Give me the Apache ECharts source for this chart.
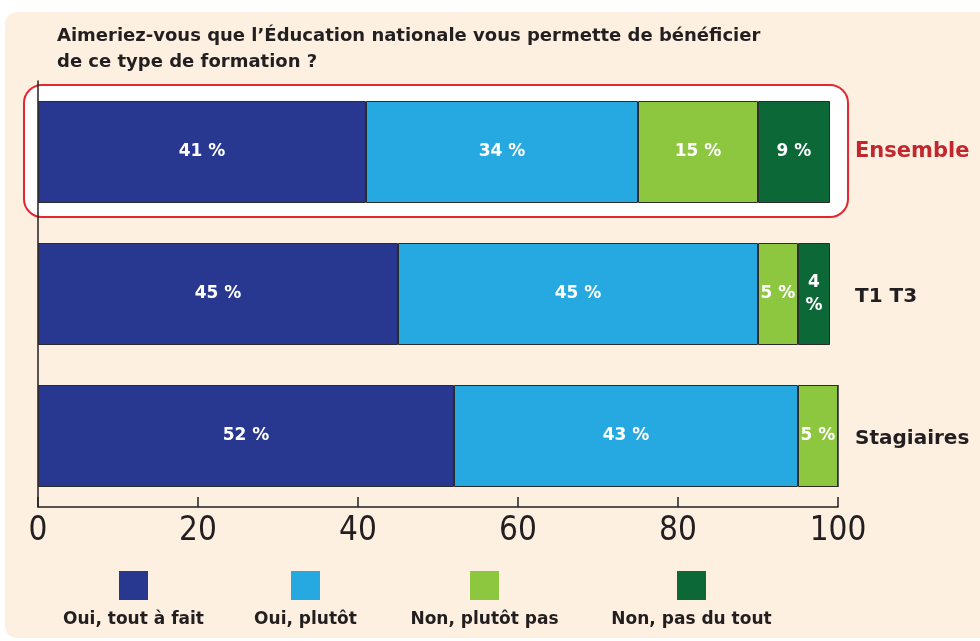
<!DOCTYPE html>
<html>
<head>
<meta charset="utf-8">
<script src="https://cdn.jsdelivr.net/npm/echarts@6/dist/echarts.min.js"></script>
<style>
  html, body { margin: 0; padding: 0; background: #fff; }
  #chart { width: 980px; height: 641px; }
</style>
</head>
<body>
<div id="chart"></div>
<script>
// data
const groups = ['Ensemble', 'T1 T3', 'Stagiaires'];
const answers = ['Oui, tout à fait', 'Oui, plutôt', 'Non, plutôt pas', 'Non, pas du tout'];
const ouiTout = [41, 45, 52];
const ouiPlutot = [34, 45, 43];
const nonPlutot = [15, 5, 5];
const nonPasDuTout = [9, 4, 0];
const xTicks = [0, 20, 40, 60, 80, 100];

const colors = ['#283891', '#25a9e0', '#8dc63f', '#0d6838'];
const values = [ouiTout, ouiPlutot, nonPlutot, nonPasDuTout];
const FONT = 'DejaVu Sans';

let chart = echarts.init(document.getElementById('chart'));

let labelFormatter = function (p) {
    if (!p.value) return '';
    return p.value < 5 ? p.value + '\n%' : p.value + ' %';
};

let series = answers.map((name, i) => ({
    name: name,
    type: 'bar',
    stack: 'total',
    barWidth: 102,
    data: values[i],
    itemStyle: {
        color: colors[i],
        borderColor: '#2b2b2b',
        borderWidth: 1
    },
    label: {
        show: true,
        position: 'inside',
        color: '#fff',
        fontFamily: FONT,
        fontWeight: 'bold',
        fontSize: 17,
        lineHeight: 23,
        formatter: labelFormatter
    }
}));

let legendLeft = [119, 291, 470, 677];
let legends = answers.map((name, i) => ({
    data: [name],
    left: legendLeft[i],
    top: 571,
    padding: 0,
    icon: 'rect',
    itemWidth: 29,
    itemHeight: 29,
    itemStyle: { borderWidth: 0 },
    selectedMode: false,
    formatter: () => ''
}));

let legendText = answers.map((name, i) => ({
    type: 'text',
    x: legendLeft[i] + 14.5,
    y: 620,
    style: {
        text: name,
        fill: '#231f20',
        font: 'bold 17px ' + FONT,
        align: 'center',
        verticalAlign: 'middle'
    }
}));

let option = {
    backgroundColor: '#fff',
    animation: false,
    title: {
        text: 'Aimeriez-vous que l\u2019Éducation nationale vous permette de bénéficier\nde ce type de formation ?',
        left: 52,
        top: 18,
        textStyle: {
            color: '#231f20',
            fontFamily: FONT,
            fontWeight: 'bold',
            fontSize: 18,
            lineHeight: 26
        }
    },
    graphic: [
        {
            type: 'rect',
            z: -10,
            shape: { x: 5, y: 12, width: 990, height: 626, r: 12 },
            style: { fill: '#fdf0e1' }
        },
        {
            type: 'rect',
            z: -5,
            shape: { x: 24, y: 85, width: 824, height: 132, r: 18 },
            style: { fill: '#fff', stroke: '#e52530', lineWidth: 2 }
        }
    ].concat(legendText),
    legend: legends,
    grid: {
        left: 38,
        right: 142,
        top: 81,
        bottom: 134
    },
    xAxis: {
        type: 'value',
        min: 0,
        max: 100,
        interval: 20,
        splitLine: { show: false },
        axisLine: { show: true, lineStyle: { color: '#231f20', width: 1.5 } },
        axisTick: { show: true, inside: true, length: 10, lineStyle: { color: '#231f20', width: 1.5 } },
        axisLabel: {
            color: '#231f20',
            fontFamily: 'Liberation Sans Narrow, DejaVu Sans Condensed',
            fontSize: 33,
            margin: 8,
            formatter: v => xTicks.includes(v) ? String(v) : ''
        }
    },
    yAxis: [
        {
            type: 'category',
            data: groups,
            inverse: true,
            axisLine: { show: true, lineStyle: { color: '#231f20', width: 1.5 } },
            axisTick: { show: false },
            axisLabel: { show: false }
        },
        {
            type: 'category',
            data: groups,
            inverse: true,
            position: 'right',
            axisLine: { show: false },
            axisTick: { show: false },
            axisLabel: {
                margin: 17,
                align: 'left',
                formatter: v => v === 'Ensemble' ? '{red|' + v + '}' : '{dark|' + v + '}',
                rich: {
                    red: { color: '#c1272d', fontFamily: FONT, fontWeight: 'bold', fontSize: 21 },
                    dark: { color: '#231f20', fontFamily: FONT, fontWeight: 'bold', fontSize: 20, padding: [6, 0, 0, 0] }
                }
            }
        }
    ],
    series: series
};

chart.setOption(option);
</script>
</body>
</html>
